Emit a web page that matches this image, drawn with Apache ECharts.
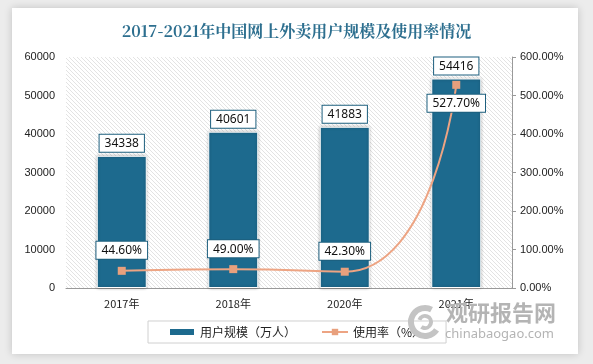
<!DOCTYPE html>
<html><head><meta charset="utf-8">
<script src="https://cdn.jsdelivr.net/npm/echarts@6/dist/echarts.min.js"></script>
<style>html,body{margin:0;padding:0;background:#ececec;}#c{width:593px;height:364px;}</style>
</head><body><div id="c"></div>
<script>
const categories = ['2017年','2018年','2020年','2021年'];
const users = [34338, 40601, 41883, 54416];
const rate = [44.60, 49.00, 42.30, 527.70];
const leftTicks = {min:0, max:60000, interval:10000};
const rightTicks = {min:0, max:600, interval:100};

const pc = document.createElement('canvas');
pc.width = 4; pc.height = 4;
const g = pc.getContext('2d');
g.fillStyle = '#ffffff'; g.fillRect(0,0,4,4);
g.strokeStyle = '#dcdcdc'; g.lineWidth = 0.8;
[[-4,0],[0,0],[4,0]].forEach(([ox,oy])=>{g.beginPath(); g.moveTo(ox,oy); g.lineTo(ox+4,oy+4); g.stroke();});

const chart = echarts.init(document.getElementById('c'));
const labelBox = {
  show:true, position:'top', color:'#111', fontSize:12, fontFamily:'Noto Sans',
  backgroundColor:'#fff', borderColor:'#1d5f7e', borderWidth:1, padding:[3,5,2,5], distance:4
};
const rateData = rate.map((v,i)=> i===rate.length-1 ? {value:v, label:{position:'bottom', distance:6}} : v);
chart.setOption({
  animation:false,
  graphic:[
    {type:'rect', shape:{x:12,y:8,width:566,height:346}, style:{fill:'#fff', shadowBlur:8, shadowColor:'rgba(0,0,0,0.18)'}, z:-10},
    {type:'arc', shape:{cx:425, cy:322, r:14, startAngle:0.6, endAngle:5.2}, style:{stroke:'#c4c4c4', lineWidth:6, fill:null}, z:100},
    {type:'arc', shape:{cx:425, cy:322, r:6, startAngle:3.5, endAngle:8.5}, style:{stroke:'#c4c4c4', lineWidth:4, fill:null}, z:100},
    {type:'text', left:446, top:302, style:{text:'观研报告网', fill:'#b4b4b4', font:'bold 22px "Noto Sans CJK SC"'}, z:100},
    {type:'text', left:445, top:328, style:{text:'chinabaogao.com', fill:'#b4b4b4', font:'13px "Noto Sans"'}, z:100}
  ],
  title:{text:'2017-2021年中国网上外卖用户规模及使用率情况', left:'center', top:18,
    textStyle:{color:'#2d6f8f', fontSize:16, fontWeight:'bold', fontFamily:'"Noto Serif CJK SC","Noto Sans CJK SC", serif'}},
  legend:{bottom:21, left:148, itemGap:25, itemWidth:26, itemHeight:8,
    borderColor:'#d0d0d0', borderWidth:1, padding:[5,22,5,20],
    textStyle:{fontSize:12, color:'#222', fontFamily:'"Noto Sans CJK SC"'},
    data:[{name:'用户规模（万人）', icon:'rect'},{name:'使用率（%）'}]},
  grid:{left:66, right:81, top:57, bottom:76, show:true, borderWidth:0, backgroundColor:{image:pc, repeat:'repeat'}},
  xAxis:{type:'category', data:categories,
    axisLine:{lineStyle:{color:'#999'}}, axisTick:{show:false},
    axisLabel:{color:'#222', fontSize:11, margin:10, fontFamily:'"Noto Sans CJK SC"'}},
  yAxis:[
    {type:'value', min:leftTicks.min, max:leftTicks.max, interval:leftTicks.interval,
     splitLine:{show:false}, axisLine:{show:false}, axisTick:{show:false},
     axisLabel:{color:'#222', fontSize:11, margin:11, formatter:v=>String(v)}},
    {type:'value', min:rightTicks.min, max:rightTicks.max, interval:rightTicks.interval, position:'right',
     splitLine:{show:false}, axisLine:{show:true, lineStyle:{color:'#999'}}, axisTick:{show:true, length:4, lineStyle:{color:'#999'}},
     axisLabel:{color:'#222', fontSize:11, margin:8, formatter:v=>v.toFixed(2)+'%'}}
  ],
  series:[
    {name:'用户规模（万人）', type:'bar', data:users, barWidth:50,
     itemStyle:{color:'#1d6a8e', borderColor:'#fff', borderWidth:1, shadowBlur:3, shadowColor:'rgba(0,0,0,0.3)'},
     label:Object.assign({}, labelBox)},
    {name:'使用率（%）', type:'line', yAxisIndex:1, data:rateData, smooth:0.6,
     symbol:'rect', symbolSize:8, lineStyle:{color:'#eda483', width:2},
     itemStyle:{color:'#e8a07d'},
     label:Object.assign({}, labelBox, {distance:8, formatter:p=>p.value.toFixed(2)+'%'})}
  ]
});
</script></body></html>
